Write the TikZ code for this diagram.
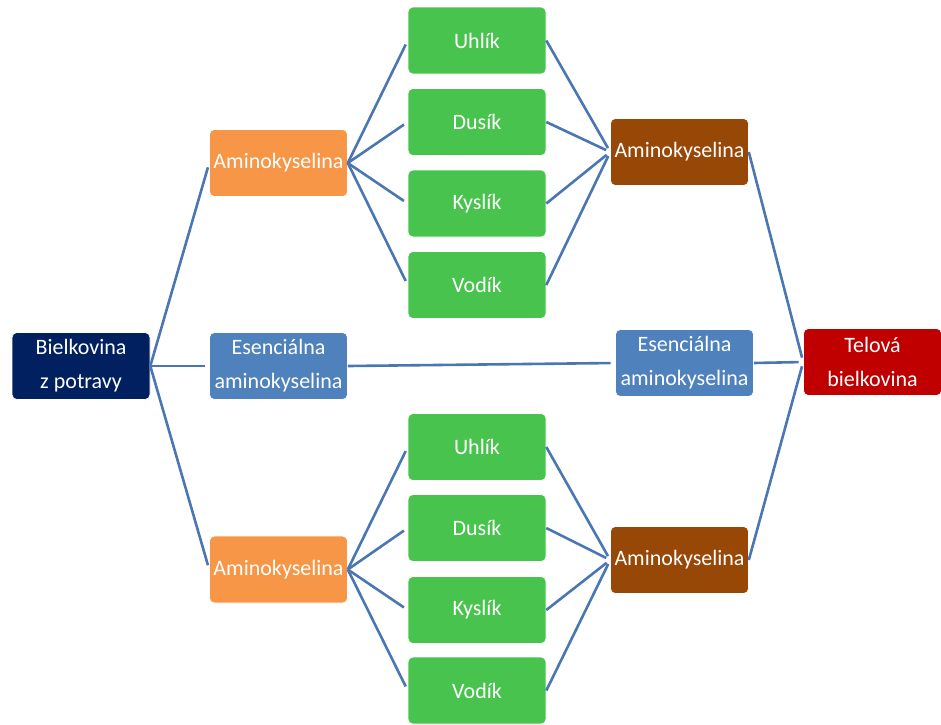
\documentclass[tikz,border=0pt]{standalone}
\usepackage{fontspec}
\setmainfont{Carlito}
\definecolor{navy}{HTML}{002060}
\definecolor{orangeacc}{HTML}{F79646}
\definecolor{blueacc}{HTML}{4F81BD}
\definecolor{greenacc}{HTML}{48C34E}
\definecolor{brownacc}{HTML}{974706}
\definecolor{redacc}{HTML}{C00000}
\definecolor{linkblue}{HTML}{4A76B2}
\tikzset{
  box/.style={rectangle, rounded corners=5pt, draw=white, line width=0.6pt,
    text=white, align=center, inner sep=0pt,
    font=\fontsize{22}{34}\selectfont},
  wide/.style={box, minimum width=138pt, minimum height=67pt},
  link/.style={draw=linkblue, line width=2.6pt, shorten >=4.5pt}
}
\begin{document}
\begin{tikzpicture}[x=1pt, y=-1pt]
\useasboundingbox (0,0) rectangle (941,724);

% source and first level
\node[wide, fill=navy] (src) at (81,366) {Bielkovina\\z potravy};
\node[wide, fill=orangeacc] (aT) at (278.5,163) {Aminokyselina};
\node[wide, fill=blueacc] (eL) at (278.5,366) {Esenciálna\\aminokyselina};
\node[wide, fill=orangeacc] (aB) at (278.5,569.5) {Aminokyselina};

% elements, upper group
\node[wide, fill=greenacc] (cT) at (477,40.5) {Uhlík};
\node[wide, fill=greenacc] (nT) at (477,122) {Dusík};
\node[wide, fill=greenacc] (oT) at (477,203.5) {Kyslík};
\node[wide, fill=greenacc] (hT) at (477,285) {Vodík};

% elements, lower group
\node[wide, fill=greenacc] (cB) at (477,447) {Uhlík};
\node[wide, fill=greenacc] (nB) at (477,528) {Dusík};
\node[wide, fill=greenacc] (oB) at (477,610) {Kyslík};
\node[wide, fill=greenacc] (hB) at (477,690.5) {Vodík};

% rebuilt amino acids
\node[wide, fill=brownacc] (bT) at (679.5,152) {Aminokyselina};
\node[wide, fill=blueacc] (eR) at (684.5,363) {Esenciálna\\aminokyselina};
\node[wide, fill=brownacc] (bB) at (679.5,560) {Aminokyselina};

% result
\node[wide, fill=redacc] (res) at (872.5,362) {Telová\\bielkovina};

% connectors
\foreach \a/\b in {src/aT, src/eL, src/aB,
                   aT/cT, aT/nT, aT/oT, aT/hT,
                   aB/cB, aB/nB, aB/oB, aB/hB,
                   cT/bT, nT/bT, oT/bT, hT/bT,
                   cB/bB, nB/bB, oB/bB, hB/bB,
                   eL/eR, bT/res, eR/res, bB/res}
  \draw[link] (\a.east) -- (\b.west);
\end{tikzpicture}
\end{document}
